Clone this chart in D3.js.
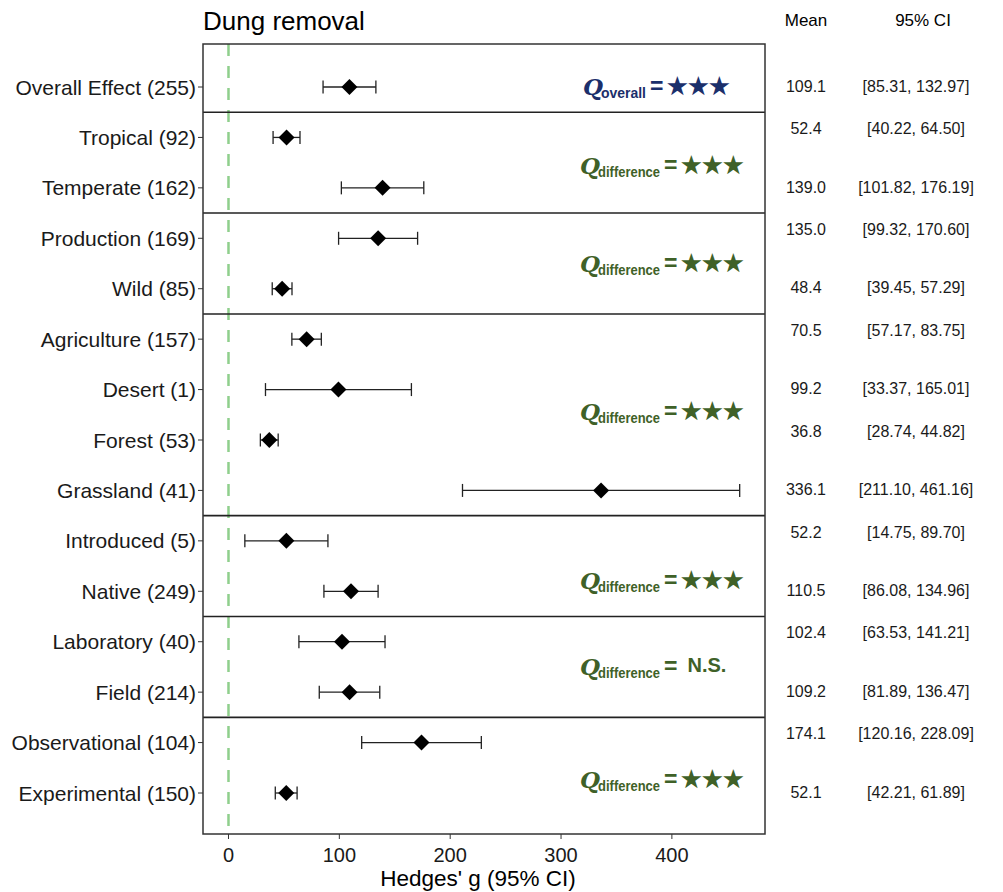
<!DOCTYPE html>
<html>
<head>
<meta charset="utf-8">
<script src="https://cdn.jsdelivr.net/npm/d3@7"></script>
<style>
  body { margin: 0; background: #fff; }
  text { font-family: "Liberation Sans", Arial, sans-serif; }
</style>
</head>
<body>
<script>
// Moderator levels (sample size in brackets)
const labels = ["Overall Effect (255)", "Tropical (92)", "Temperate (162)", "Production (169)", "Wild (85)",
  "Agriculture (157)", "Desert (1)", "Forest (53)", "Grassland (41)", "Introduced (5)", "Native (249)",
  "Laboratory (40)", "Field (214)", "Observational (104)", "Experimental (150)"];
const means = [109.1, 52.4, 139.0, 135.0, 48.4, 70.5, 99.2, 36.8, 336.1, 52.2, 110.5, 102.4, 109.2, 174.1, 52.1];
const lower = [85.31, 40.22, 101.82, 99.32, 39.45, 57.17, 33.37, 28.74, 211.10, 14.75, 86.08, 63.53, 81.89, 120.16, 42.21];
const upper = [132.97, 64.50, 176.19, 170.60, 57.29, 83.75, 165.01, 44.82, 461.16, 89.70, 134.96, 141.21, 136.47, 228.09, 61.89];
const meanText = ["109.1", "52.4", "139.0", "135.0", "48.4", "70.5", "99.2", "36.8", "336.1", "52.2", "110.5", "102.4", "109.2", "174.1", "52.1"];

// groups of rows (last index) and their Q test result
const groupEnd = [0, 2, 4, 8, 10, 12, 14];
const qSub = ["overall", "difference", "difference", "difference", "difference", "difference", "difference"];
const qResult = ["\u2605\u2605\u2605", "\u2605\u2605\u2605", "\u2605\u2605\u2605", "\u2605\u2605\u2605", "\u2605\u2605\u2605", "N.S.", "\u2605\u2605\u2605"];
const qRow = [0, 1.56, 3.5, 6.45, 9.8, 11.5, 13.75]; // label position in row units

const xTicks = [0, 100, 200, 300, 400];

const width = 1003, height = 892;
const panel = { left: 203, right: 765, top: 44, bottom: 834 };
const blue = "#1b2f6b", green = "#3f6128";

const svg = d3.select("body").append("svg")
  .attr("width", width)
  .attr("height", height);

const x = d3.scaleLinear().domain([-23, 484]).range([panel.left, panel.right]);
const y = d3.scaleLinear().domain([0, labels.length - 1]).range([87, 793]);

// title
svg.append("text")
  .attr("x", panel.left)
  .attr("y", 30)
  .attr("font-size", "26px")
  .text("Dung removal");

// reference line at zero
svg.append("line")
  .attr("x1", x(0)).attr("x2", x(0))
  .attr("y1", panel.top).attr("y2", panel.bottom)
  .attr("stroke", "#8fcf8c")
  .attr("stroke-width", 2.5)
  .attr("stroke-dasharray", "12,10");

// group dividers
groupEnd.slice(0, -1).forEach(e => {
  svg.append("line")
    .attr("x1", panel.left).attr("x2", panel.right)
    .attr("y1", y(e + 0.5)).attr("y2", y(e + 0.5))
    .attr("stroke", "#222")
    .attr("stroke-width", 1.6);
});

// panel border
svg.append("rect")
  .attr("x", panel.left).attr("y", panel.top)
  .attr("width", panel.right - panel.left)
  .attr("height", panel.bottom - panel.top)
  .attr("fill", "none")
  .attr("stroke", "#333")
  .attr("stroke-width", 1.5);

// y axis labels with small ticks
const yAxis = svg.append("g");
labels.forEach((l, i) => {
  yAxis.append("line")
    .attr("x1", panel.left - 5).attr("x2", panel.left)
    .attr("y1", y(i)).attr("y2", y(i))
    .attr("stroke", "#333");
  yAxis.append("text")
    .attr("x", panel.left - 7)
    .attr("y", y(i))
    .attr("dy", "0.36em")
    .attr("text-anchor", "end")
    .attr("font-size", "21px")
    .attr("fill", "#1a1a1a")
    .text(l);
});

// x axis
const xAxis = svg.append("g");
xTicks.forEach(t => {
  xAxis.append("line")
    .attr("x1", x(t)).attr("x2", x(t))
    .attr("y1", panel.bottom).attr("y2", panel.bottom + 5)
    .attr("stroke", "#333");
  xAxis.append("text")
    .attr("x", x(t))
    .attr("y", panel.bottom + 28)
    .attr("text-anchor", "middle")
    .attr("font-size", "20px")
    .attr("fill", "#1a1a1a")
    .text(t);
});
svg.append("text")
  .attr("x", (panel.left + panel.right) / 2 - 6)
  .attr("y", 886)
  .attr("text-anchor", "middle")
  .attr("font-size", "22.5px")
  .text("Hedges' g (95% CI)");

// error bars and diamonds
const cap = 6.5, d = 8;
const marks = svg.append("g");
means.forEach((m, i) => {
  const yy = y(i);
  marks.append("line")
    .attr("x1", x(lower[i])).attr("x2", x(upper[i]))
    .attr("y1", yy).attr("y2", yy)
    .attr("stroke", "#222").attr("stroke-width", 1.3);
  [lower[i], upper[i]].forEach(v => {
    marks.append("line")
      .attr("x1", x(v)).attr("x2", x(v))
      .attr("y1", yy - cap).attr("y2", yy + cap)
      .attr("stroke", "#222").attr("stroke-width", 1.3);
  });
  marks.append("path")
    .attr("d", `M${x(m)},${yy - d}L${x(m) + d},${yy}L${x(m)},${yy + d}L${x(m) - d},${yy}Z`)
    .attr("fill", "#000");
});

// right-hand table (second row of each pair sits a little higher)
svg.append("text").attr("x", 806).attr("y", 26).attr("text-anchor", "middle")
  .attr("font-size", "17px").text("Mean");
svg.append("text").attr("x", 923).attr("y", 26).attr("text-anchor", "middle")
  .attr("font-size", "17px").text("95% CI");
means.forEach((m, i) => {
  const ty = y(i) - (i % 2 === 1 ? 9 : 1);
  svg.append("text")
    .attr("x", 806).attr("y", ty)
    .attr("dy", "0.36em")
    .attr("text-anchor", "middle")
    .attr("font-size", "16px")
    .attr("fill", "#1a1a1a")
    .text(meanText[i]);
  svg.append("text")
    .attr("x", 916).attr("y", ty)
    .attr("dy", "0.36em")
    .attr("text-anchor", "middle")
    .attr("font-size", "16px")
    .attr("fill", "#1a1a1a")
    .text(`[${lower[i].toFixed(2)}, ${upper[i].toFixed(2)}]`);
});

// Q statistic annotations, built piece by piece
qRow.forEach((r, k) => {
  const col = k === 0 ? blue : green;
  const ns = qResult[k] === "N.S.";
  const base = y(r) + 8;
  const g = svg.append("g").attr("fill", col).attr("font-weight", "bold");
  let cx = k === 0 ? 583 : 580;

  const q = g.append("text")
    .attr("x", cx).attr("y", base)
    .style("font-family", "'DejaVu Serif', serif")
    .attr("font-style", "italic")
    .attr("font-size", "23px")
    .text("Q");
  cx += q.node().getComputedTextLength() - 2;

  // subscript squeezed horizontally to the narrow look of the original
  const subW = k === 0 ? 45 : 62;
  const sub = g.append("text")
    .attr("font-size", "15px")
    .text(qSub[k]);
  const natural = sub.node().getComputedTextLength();
  sub.attr("transform", `translate(${cx},${base + 3}) scale(${subW / natural},1)`);
  cx += subW + 4;

  const eq = g.append("text")
    .attr("x", cx).attr("y", base - 1)
    .attr("font-size", "23px")
    .text("=");
  cx += eq.node().getComputedTextLength() + (ns ? 10 : 4);

  g.append("text")
    .attr("x", cx).attr("y", ns ? base - 3 : base - 1)
    .attr("font-size", ns ? "20px" : "23px")
    .text(qResult[k]);
});
</script>
</body>
</html>
